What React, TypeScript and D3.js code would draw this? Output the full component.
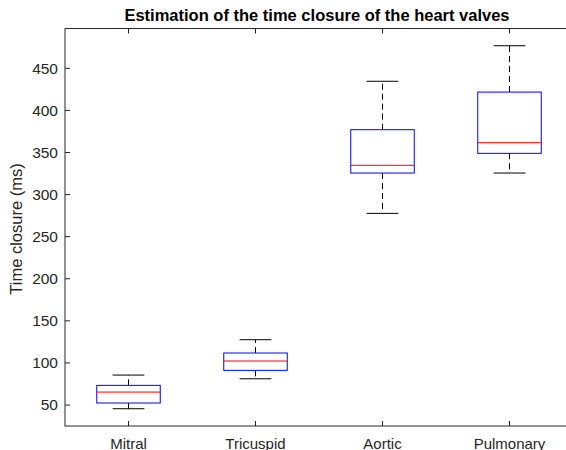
import { useEffect, useRef } from 'react';
import * as d3 from 'd3';

const categories = ['Mitral', 'Tricuspid', 'Aortic', 'Pulmonary'];
const whiskerLow = [45.6, 81.2, 277.7, 325.6];
const q1 = [52.4, 91.2, 325.6, 349];
const median = [65.4, 102.3, 334.8, 361.6];
const q3 = [73.4, 111.8, 377.1, 421.8];
const whiskerHigh = [85.6, 127.6, 434.6, 476.8];
const yTicks = [50, 100, 150, 200, 250, 300, 350, 400, 450];

export default function App() {
  const svgRef = useRef<SVGSVGElement>(null);

  useEffect(() => {
    if (!svgRef.current) return;
    const width = 566;
    const height = 450;
    const margin = { top: 28.5, right: -7, bottom: 24, left: 65 };
    const innerWidth = width - margin.left - margin.right;
    const innerHeight = height - margin.top - margin.bottom;

    const svg = d3.select(svgRef.current);
    svg.selectAll('*').remove();

    const x = d3.scaleLinear().domain([0.5, 4.5]).range([0, innerWidth]);
    const y = d3.scaleLinear().domain([25.1, 497.3]).range([innerHeight, 0]);

    const font = 'Liberation Sans, Arial, sans-serif';
    const axisColor = '#262626';

    const g = svg
      .append('g')
      .attr('transform', `translate(${margin.left},${margin.top})`);

    // box frame
    g.append('rect')
      .attr('x', 0)
      .attr('y', 0)
      .attr('width', innerWidth)
      .attr('height', innerHeight)
      .attr('fill', 'white')
      .attr('stroke', axisColor)
      .attr('stroke-width', 1);

    // y ticks, inward on left and right
    yTicks.forEach((t) => {
      g.append('line')
        .attr('x1', 0).attr('x2', 5)
        .attr('y1', y(t)).attr('y2', y(t))
        .attr('stroke', axisColor);
      g.append('line')
        .attr('x1', innerWidth).attr('x2', innerWidth - 5)
        .attr('y1', y(t)).attr('y2', y(t))
        .attr('stroke', axisColor);
      g.append('text')
        .attr('x', -7)
        .attr('y', y(t))
        .attr('dy', '0.35em')
        .attr('text-anchor', 'end')
        .attr('font-family', font)
        .attr('font-size', 15.5)
        .attr('fill', axisColor)
        .text(t);
    });

    // x ticks, inward on bottom and top
    categories.forEach((c, i) => {
      const cx = x(i + 1);
      g.append('line')
        .attr('x1', cx).attr('x2', cx)
        .attr('y1', innerHeight).attr('y2', innerHeight - 5)
        .attr('stroke', axisColor);
      g.append('line')
        .attr('x1', cx).attr('x2', cx)
        .attr('y1', 0).attr('y2', 5)
        .attr('stroke', axisColor);
      g.append('text')
        .attr('x', cx)
        .attr('y', innerHeight + 23)
        .attr('text-anchor', 'middle')
        .attr('font-family', font)
        .attr('font-size', 15)
        .attr('fill', axisColor)
        .text(c);
    });

    // boxes
    const boxW = x(1.25) - x(1);
    const capW = x(1.125) - x(1);
    categories.forEach((_, i) => {
      const cx = x(i + 1);
      // whiskers
      g.append('line')
        .attr('x1', cx).attr('x2', cx)
        .attr('y1', y(q3[i])).attr('y2', y(whiskerHigh[i]))
        .attr('stroke', 'black')
        .attr('stroke-dasharray', '6,4');
      g.append('line')
        .attr('x1', cx).attr('x2', cx)
        .attr('y1', y(q1[i])).attr('y2', y(whiskerLow[i]))
        .attr('stroke', 'black')
        .attr('stroke-dasharray', '6,4');
      [whiskerHigh[i], whiskerLow[i]].forEach((v) => {
        g.append('line')
          .attr('x1', cx - capW).attr('x2', cx + capW)
          .attr('y1', y(v)).attr('y2', y(v))
          .attr('stroke', 'black');
      });
      g.append('rect')
        .attr('x', cx - boxW)
        .attr('y', y(q3[i]))
        .attr('width', boxW * 2)
        .attr('height', y(q1[i]) - y(q3[i]))
        .attr('fill', 'none')
        .attr('stroke', 'blue');
      g.append('line')
        .attr('x1', cx - boxW).attr('x2', cx + boxW)
        .attr('y1', y(median[i])).attr('y2', y(median[i]))
        .attr('stroke', 'red');
    });

    // title
    svg.append('text')
      .attr('x', 317)
      .attr('y', 21)
      .attr('text-anchor', 'middle')
      .attr('font-family', font)
      .attr('font-size', 16.5)
      .attr('font-weight', 'bold')
      .attr('fill', 'black')
      .text('Estimation of the time closure of the heart valves');

    // y label
    svg.append('text')
      .attr('transform', `translate(22,229) rotate(-90)`)
      .attr('text-anchor', 'middle')
      .attr('font-family', font)
      .attr('font-size', 16.5)
      .attr('fill', axisColor)
      .text('Time closure (ms)');
  }, []);

  return (
    <svg
      ref={svgRef}
      width={566}
      height={450}
      style={{ position: 'fixed', left: 0, top: 0, background: 'white' }}
    />
  );
}
